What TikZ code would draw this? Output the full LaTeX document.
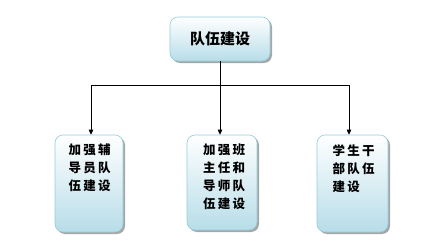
\documentclass[tikz,border=0pt]{standalone}
\usepackage{fontspec}
\usetikzlibrary{arrows.meta,shadows}
\newfontfamily\cjk{Noto Sans CJK SC}
\newfontfamily\cjksp{Noto Sans CJK SC}[LetterSpace=18]
\definecolor{boxline}{RGB}{147,205,221}
\definecolor{boxfill}{RGB}{183,221,232}
\tikzset{
  box/.style={draw=boxline, line width=0.6pt, rounded corners=8pt,
    top color=white, bottom color=boxfill, inner sep=0pt,
    drop shadow={shadow xshift=2pt, shadow yshift=-2pt, fill=black, opacity=0.35}},
  boxtext/.style={anchor=north, align=left, inner sep=0pt,
    font=\cjksp\bfseries\fontsize{12.5}{18}\selectfont},
  toptext/.style={font=\cjk\bfseries\fontsize{15}{18}\selectfont},
  arr/.style={line width=0.9pt, -{Triangle[length=5pt,width=4.5pt]}},
  bar/.style={line width=0.9pt}
}
\begin{document}
\begin{tikzpicture}[x=1pt,y=-1pt]
\useasboundingbox (0,0) rectangle (440,252);
\node[box, minimum width=100pt, minimum height=44pt] (top) at (220,39) {};
\node[toptext] (toptxt) at (top.center) {队伍建设};
\node[box, minimum width=68pt, minimum height=97pt] (left) at (89,183.5) {};
\node[box, minimum width=70pt, minimum height=95pt] (mid) at (222,182.5) {};
\node[box, minimum width=71pt, minimum height=97pt] (right) at (352.5,183.5) {};
\node[boxtext] (lefttxt) at (89.5,144) {加强辅\\导员队\\伍建设};
\node[boxtext] (midtxt) at (224,144) {加强班\\主任和\\导师队\\伍建设};
\node[boxtext] (righttxt) at (353.5,144) {学生干\\部队伍\\建设};
\coordinate (bar) at (0,85);
\coordinate (lx) at (91,0);
\coordinate (rx) at (349,0);
\draw[arr] (top.south) -- (top.south |- mid.north);
\draw[bar] (lx |- bar) -- (rx |- bar);
\draw[arr] (lx |- bar) -- (lx |- left.north);
\draw[arr] (rx |- bar) -- (rx |- right.north);
\end{tikzpicture}
\end{document}
